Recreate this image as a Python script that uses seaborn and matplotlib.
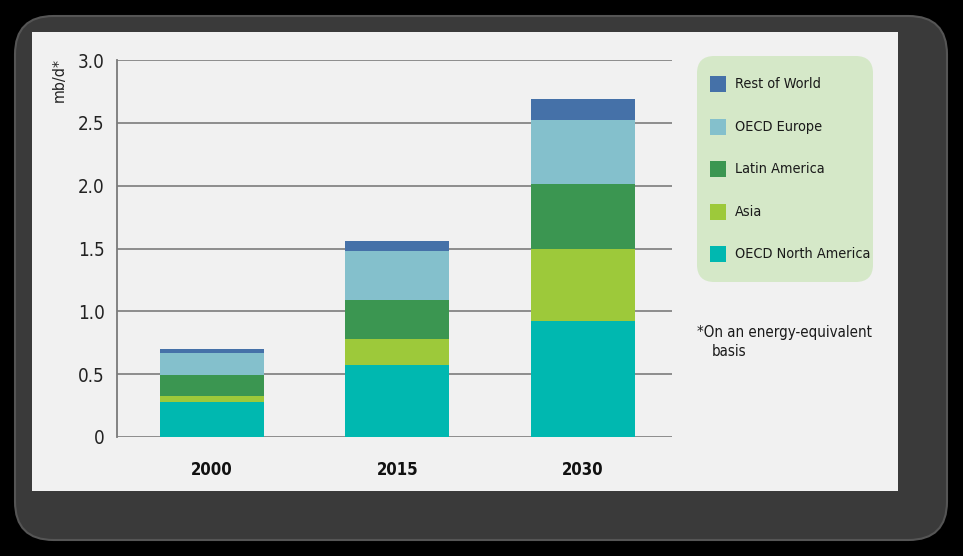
import numpy as np
import pandas as pd
import matplotlib
matplotlib.use("Agg")
import matplotlib.pyplot as plt
import seaborn as sns
from matplotlib.patches import FancyBboxPatch, Rectangle
from matplotlib import font_manager

# data (mb/d, energy-equivalent basis)
years = ["2000", "2015", "2030"]
regions = ["OECD North America", "Asia", "Latin America", "OECD Europe", "Rest of World"]
north_america = [0.28, 0.57, 0.92]
asia = [0.05, 0.21, 0.58]
latin_america = [0.16, 0.31, 0.51]
oecd_europe = [0.18, 0.39, 0.51]
rest_of_world = [0.03, 0.08, 0.17]

colors = {
    "OECD North America": "#00b8b0",
    "Asia": "#9dc93a",
    "Latin America": "#3b9651",
    "OECD Europe": "#84c0cc",
    "Rest of World": "#4571a8",
}

sns.set_style("white")
# look for a narrow face, the original uses a condensed font
fonts = font_manager.fontManager.ttflist
narrow = [f for f in fonts if ("Narrow" in f.name or "Condensed" in f.name
                               or f.stretch in ("condensed", "semi-condensed"))]
if narrow:
    family = narrow[0].name
    stretch = narrow[0].stretch
else:
    family = "DejaVu Sans"
    stretch = "normal"
plt.rcParams["font.family"] = [family, "DejaVu Sans"]
plt.rcParams["font.stretch"] = stretch

df = pd.DataFrame({
    "year": years,
    "OECD North America": north_america,
    "Asia": asia,
    "Latin America": latin_america,
    "OECD Europe": oecd_europe,
    "Rest of World": rest_of_world,
})
cum = df[regions].cumsum(axis=1)

fig = plt.figure(figsize=(9.63, 5.56), dpi=100)
fig.patch.set_facecolor("black")
W, H = 963, 556

# dark rounded frame and light panel
frame = FancyBboxPatch((15 / W, 16 / H), 932 / W, 524 / H,
                       boxstyle="round,pad=0,rounding_size=0.04",
                       transform=fig.transFigure, facecolor="#3a3a3a",
                       edgecolor="#555555", linewidth=1.5, mutation_aspect=W / H,
                       zorder=-2)
fig.patches.append(frame)
panel = Rectangle((32 / W, (H - 491) / H), 866 / W, 459 / H,
                  transform=fig.transFigure, facecolor="#f1f1f1", edgecolor="none",
                  zorder=-1)
fig.patches.append(panel)

ax = fig.add_axes([117 / W, (H - 437) / H, 555 / W, 377 / H])
ax.set_facecolor("none")

# stacked bars: draw cumulative totals from the top down
for reg in regions[::-1]:
    sns.barplot(x=df["year"], y=cum[reg], color=colors[reg], width=0.56,
                saturation=1, ax=ax, zorder=3, edgecolor="none")

ax.set_xlim(-0.51, 2.48)
ax.set_ylim(0, 3.0)
ax.set_yticks(np.arange(0, 3.01, 0.5))
ax.set_yticklabels(["0", "0.5", "1.0", "1.5", "2.0", "2.5", "3.0"], fontsize=13.5)
ax.yaxis.grid(True, color="#858585", linewidth=1.3, zorder=0)
ax.set_axisbelow(True)
for s in ["top", "right", "bottom"]:
    ax.spines[s].set_visible(False)
ax.spines["left"].set_color("#7a7a7a")
ax.spines["left"].set_linewidth(1.3)
ax.tick_params(axis="y", length=0, pad=9, colors="#222222")
ax.tick_params(axis="x", length=0, pad=17)
for lab in ax.get_xticklabels():
    lab.set_fontweight("bold")
    lab.set_fontsize(12)
    lab.set_color("#111111")
ax.set_xlabel("")
ax.set_ylabel("")

fig.text(59 / W, 1 - 80 / H, "mb/d*", rotation=90, ha="center", va="center",
         fontsize=11.5, color="#222222")

# legend box
box = FancyBboxPatch((697 / W, (H - 282) / H), 176 / W, 226 / H,
                     boxstyle="round,pad=0,rounding_size=0.018",
                     transform=fig.transFigure, facecolor="#d5e8c8",
                     edgecolor="none", mutation_aspect=W / H)
fig.patches.append(box)
legend_y = [84, 127, 169, 212, 254]
for reg, yy in zip(regions[::-1], legend_y):
    fig.patches.append(Rectangle((710 / W, (H - yy - 8) / H), 16 / W, 16 / H,
                                 transform=fig.transFigure,
                                 facecolor=colors[reg], edgecolor="none"))
    fig.text(735 / W, 1 - yy / H, reg, ha="left", va="center",
             fontsize=10.4, color="#1a1a1a")

fig.text(697 / W, 1 - 332 / H, "*On an energy-equivalent", ha="left",
         va="center", fontsize=10.8, color="#1a1a1a")
fig.text(712 / W, 1 - 352 / H, "basis", ha="left",
         va="center", fontsize=10.8, color="#1a1a1a")

fig.savefig("out.png", dpi=100, facecolor=fig.get_facecolor())
